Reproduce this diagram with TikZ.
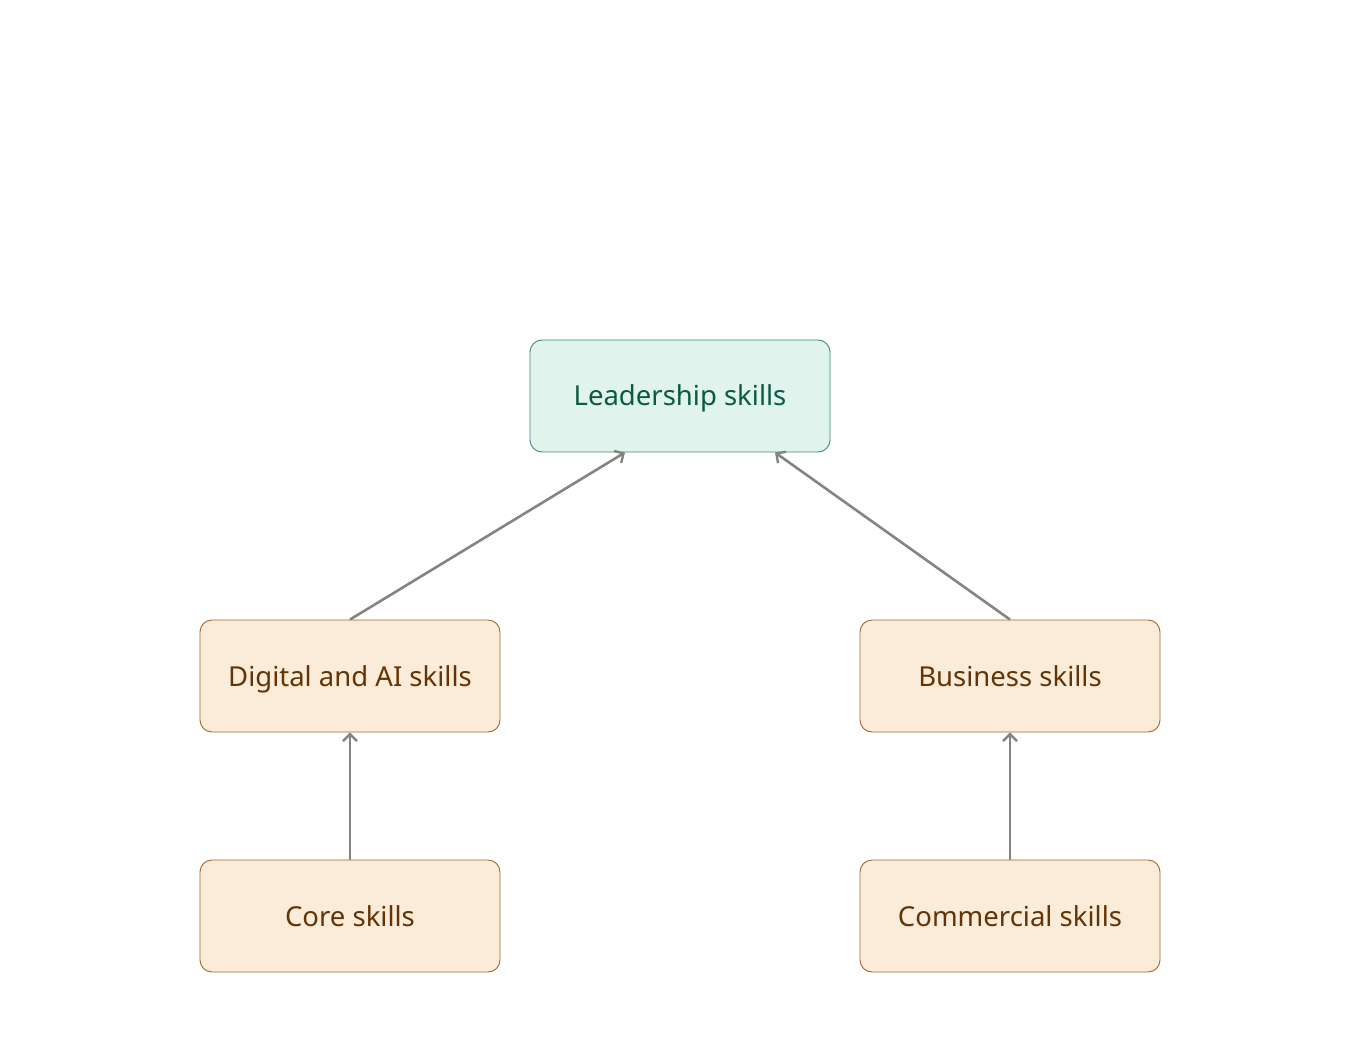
\documentclass[tikz,border=0pt]{standalone}
\usepackage{fontspec}
\setmainfont{Noto Sans}
\usetikzlibrary{arrows.meta}
\definecolor{gfill}{HTML}{E0F3EC}
\definecolor{gdraw}{HTML}{3F8C70}
\definecolor{gtext}{HTML}{0B5A45}
\definecolor{tfill}{HTML}{FAECD9}
\definecolor{tdraw}{HTML}{A0682E}
\definecolor{ttext}{HTML}{653406}
\definecolor{arr}{HTML}{85857F}
\begin{document}
\begin{tikzpicture}[x=1pt,y=-1pt,
  box/.style={rounded corners=12pt, minimum width=300pt, minimum height=112pt, line width=0.9pt, font=\fontsize{27.5}{32}\selectfont, inner sep=0pt, text height=21pt, text depth=1pt},
  gbox/.style={box, fill=gfill, draw=gdraw, text=gtext},
  tbox/.style={box, fill=tfill, draw=tdraw, text=ttext},
  conn/.style={draw=arr, line width=2.6pt, -{Straight Barb[length=7pt,width=14pt,line width=2.4pt]}}]
\useasboundingbox (0,0) rectangle (1360,1040);
\node[gbox] (lead) at (680,396) {Leadership skills};
\node[tbox] (dig) at (350,676) {Digital and AI skills};
\node[tbox] (bus) at (1010,676) {Business skills};
\node[tbox] (core) at (350,916) {Core skills};
\node[tbox] (com) at (1010,916) {Commercial skills};
\draw[conn] (dig.north) -- (lead.south -| 625,0);
\draw[conn] (bus.north) -- (lead.south -| 775,0);
\draw[conn] (core.north) -- (dig.south);
\draw[conn] (com.north) -- (bus.south);
\end{tikzpicture}
\end{document}
